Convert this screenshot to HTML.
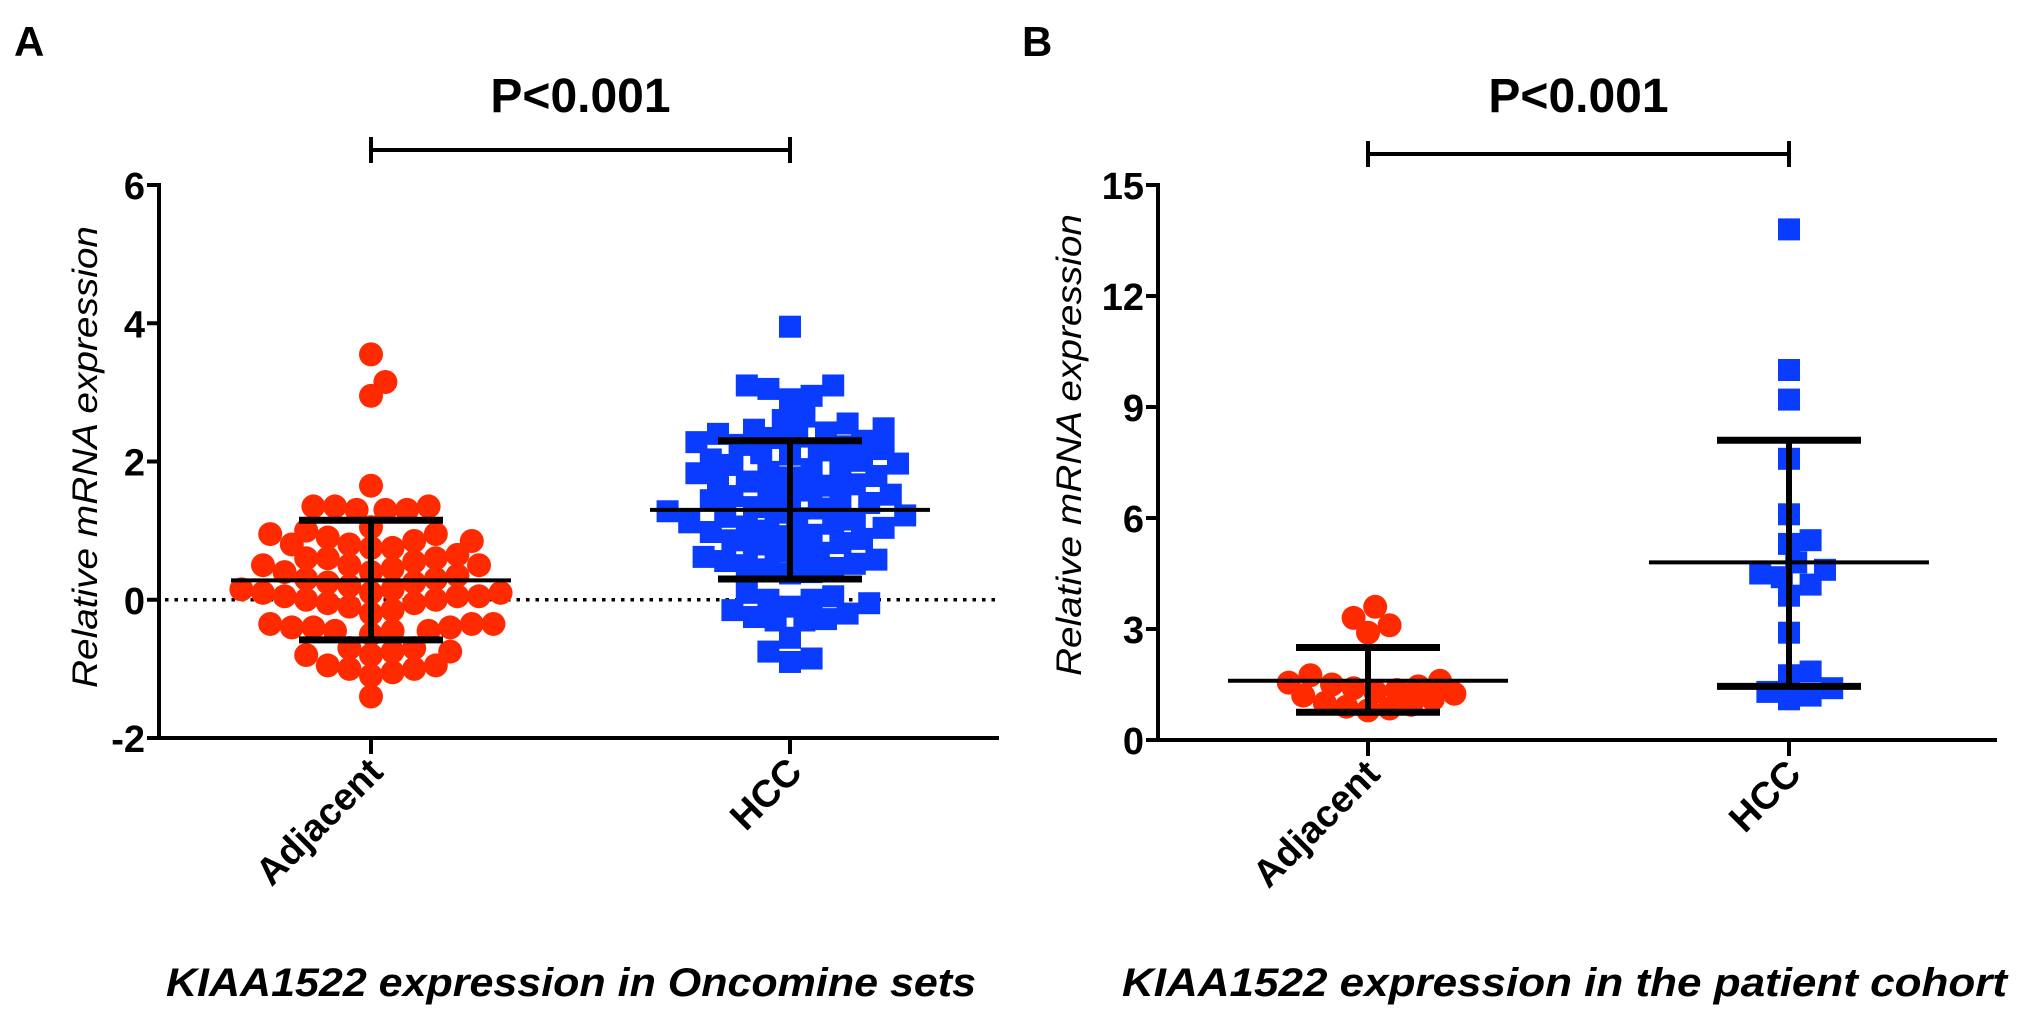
<!DOCTYPE html>
<html><head><meta charset="utf-8"><style>
html,body{margin:0;padding:0;background:#fff;}
svg{display:block;font-family:"Liberation Sans",Arial,sans-serif;}
</style></head><body>
<svg id="fig" width="2031" height="1028" viewBox="0 0 2031 1028" xmlns="http://www.w3.org/2000/svg">
<g id="A"></g>
<g id="B"></g>
</svg>
<script>
// ---- data ----
const categories = ["Adjacent","HCC"];
const aTicks = [-2,0,2,4,6];
const bTicks = [0,3,6,9,12,15];
const aAdjacent = [3.55,3.15,2.95,1.65,1.35,1.3,1.3,1.35,1.35,1.3,1.05,0.95,0.9,0.85,0.85,0.8,0.75,0.75,0.8,0.95,1.0,0.6,0.6,0.55,0.5,0.5,0.45,0.4,0.35,0.4,0.5,0.6,0.65,0.3,0.25,0.2,0.25,0.3,0.15,0.1,0.1,0.05,0.05,0.0,-0.05,-0.05,0.0,0.05,0.1,0.15,-0.1,-0.15,-0.2,-0.35,-0.4,-0.4,-0.45,-0.5,-0.45,-0.4,-0.35,-0.35,-0.45,-0.7,-0.75,-0.75,-0.8,-0.8,-0.7,-0.95,-1.0,-1.05,-1.1,-1.0,-0.95,-1.4];
const aHCC = [3.95,3.1,3.05,3.1,2.9,2.95,2.65,2.6,2.55,
  2.1,2.12,2.16,2.18,2.22,2.24,2.28,2.3,2.34,2.36,2.4,2.42,2.46,2.48,
  1.65,1.67,1.71,1.73,1.77,1.79,1.83,1.85,1.89,1.91,1.95,1.97,2.01,2.03,
  1.2,1.22,1.26,1.28,1.32,1.34,1.38,1.4,1.44,1.46,1.5,1.52,1.56,1.58,
  0.8,0.82,0.86,0.88,0.92,0.94,0.98,1.0,1.04,1.06,1.1,1.12,1.16,1.18,
  0.38,0.4,0.44,0.46,0.5,0.52,0.56,0.58,0.62,0.64,0.68,0.7,
  -0.3,-0.3,-0.28,-0.25,-0.2,-0.15,-0.1,-0.05,0.0,0.0,0.05,0.1,
  -0.55,-0.75,-0.9,-0.85];
const aStats = [{mean:0.28,hi:1.15,lo:-0.58},{mean:1.3,hi:2.3,lo:0.3}];
const bAdjacent = [3.6,3.3,3.1,2.9,1.75,1.6,1.55,1.5,1.45,1.4,1.35,1.3,1.25,1.2,1.1,1.0,0.95,0.9,0.85,0.8];
const bHCC = [13.8,10.0,9.2,7.6,6.1,5.4,5.3,4.8,4.6,4.5,4.4,4.2,3.9,2.9,1.85,1.75,1.4,1.3,1.2,1.1];
const bStats = [{mean:1.6,hi:2.5,lo:0.75},{mean:4.8,hi:8.1,lo:1.45}];

const NS="http://www.w3.org/2000/svg";
function mk(parent,tag,attrs,text){const e=document.createElementNS(NS,tag);for(const k in attrs)e.setAttribute(k,attrs[k]);if(text!==undefined)e.textContent=text;parent.appendChild(e);return e;}

function swarm(vals,yf,cx,d){
  const placed=[];const out=[];
  const order=vals.map((v,i)=>i).sort((a,b)=>vals[a]-vals[b]);
  order.forEach(i=>{const y=yf(vals[i]);let k=0,x;
    while(true){const off=(k%2?1:-1)*Math.ceil(k/2)*d*0.3;x=cx+off;
      if(placed.every(p=>Math.hypot(p[0]-x,p[1]-y)>=d*0.8))break;k++;if(k>120)break;}
    placed.push([x,y]);out.push([x,y,vals[i]]);});
  return out;
}

function panel(g,o){
  const y=v=>o.y0+(v-o.vmin)/(o.vmax-o.vmin)*(o.y1-o.y0);
  const L=mk(g,'text',{x:o.letterX,y:56,'font-size':42,'font-weight':'bold'},o.letter);
  
  if(o.zeroLine){const zl=mk(g,'line',{x1:o.ax+6,y1:y(0),x2:o.axEnd,y2:y(0),stroke:'#000','stroke-width':3.5,'stroke-dasharray':'3.5,6'});
    }
  const ya=mk(g,'line',{x1:o.ax,y1:y(o.vmax)-2,x2:o.ax,y2:y(o.vmin)+2,stroke:'#000','stroke-width':4});
  
  const xa=mk(g,'line',{x1:o.ax-2,y1:y(o.vmin),x2:o.axEnd,y2:y(o.vmin),stroke:'#000','stroke-width':4});
  
  o.ticks.forEach(t=>{
    const tl=mk(g,'line',{x1:o.ax-12,y1:y(t),x2:o.ax,y2:y(t),stroke:'#000','stroke-width':4});
    
    const tx=mk(g,'text',{x:o.ax-14,y:y(t)+14,'font-size':38,'font-weight':'bold','text-anchor':'end'},String(t));
    
  });
  const yt=mk(g,'text',{transform:`translate(${o.titleX},${o.titleY}) rotate(-90)`,'font-size':35,'font-style':'italic','text-anchor':'middle',textLength:462,lengthAdjust:'spacingAndGlyphs'},'Relative mRNA expression');
  
  categories.forEach((c,i)=>{const cx=o.cx[i];
    const tk=mk(g,'line',{x1:cx,y1:y(o.vmin),x2:cx,y2:y(o.vmin)+16,stroke:'#000','stroke-width':4});
    
    const lb=mk(g,'text',{transform:`translate(${cx+14},${y(o.vmin)+36}) rotate(-45)`,'font-size':38,'font-weight':'bold','text-anchor':'end'},c);
    
  });
  [o.s1,o.s2].forEach((vals,i)=>{
    const pts=swarm(vals,y,o.cx[i],o.d);
    pts.forEach(p=>{let e;
      if(i===0)e=mk(g,'circle',{cx:p[0],cy:p[1],r:o.d/2,fill:'#ff2a00'});
      else e=mk(g,'rect',{x:p[0]-o.d/2+1,y:p[1]-o.d/2+1,width:o.d-2,height:o.d-2,fill:'#0a3cff'});
      
      
    });
  });
  o.stats.forEach((s,i)=>{const cx=o.cx[i];
    const m=mk(g,'line',{x1:cx-o.mw,y1:y(s.mean),x2:cx+o.mw,y2:y(s.mean),stroke:'#000','stroke-width':4});
    
    const v=mk(g,'line',{x1:cx,y1:y(s.hi),x2:cx,y2:y(s.lo),stroke:'#000','stroke-width':6});
    
    [s.hi,s.lo].forEach(val=>{const c=mk(g,'line',{x1:cx-o.cw,y1:y(val),x2:cx+o.cw,y2:y(val),stroke:'#000','stroke-width':7});
      });
  });
  const by=o.bracketY;
  const br=mk(g,'path',{d:`M${o.cx[0]},${by-13} V${by+13} M${o.cx[0]},${by} H${o.cx[1]} M${o.cx[1]},${by-13} V${by+13}`,stroke:'#000','stroke-width':4,fill:'none'});
  
  const pv=mk(g,'text',{x:(o.cx[0]+o.cx[1])/2,y:112,'font-size':48,'font-weight':'bold','text-anchor':'middle'},'P<0.001');
  
  const cap=mk(g,'text',{x:o.capX,y:996,'font-size':40,'font-weight':'bold','font-style':'italic','text-anchor':'start',textLength:o.capW,lengthAdjust:'spacingAndGlyphs'},o.caption);
  
}

panel(document.getElementById('A'),{letter:'A',letterX:14,ax:159,axEnd:999,y0:738,y1:185,vmin:-2,vmax:6,ticks:aTicks,zeroLine:true,
  titleX:97,titleY:457,bracketY:150,
  cx:[371,790],s1:aAdjacent,s2:aHCC,d:24,stats:aStats,mw:140,cw:72,capX:166,capW:810,caption:'KIAA1522 expression in Oncomine sets'});
panel(document.getElementById('B'),{letter:'B',letterX:1022,ax:1158,axEnd:1997,y0:740,y1:185,vmin:0,vmax:15,ticks:bTicks,zeroLine:false,
  titleX:1081,titleY:445,bracketY:154,
  cx:[1368,1789],s1:bAdjacent,s2:bHCC,d:24,stats:bStats,mw:140,cw:72,capX:1122,capW:885,caption:'KIAA1522 expression in the patient cohort'});
</script>
</body></html>
